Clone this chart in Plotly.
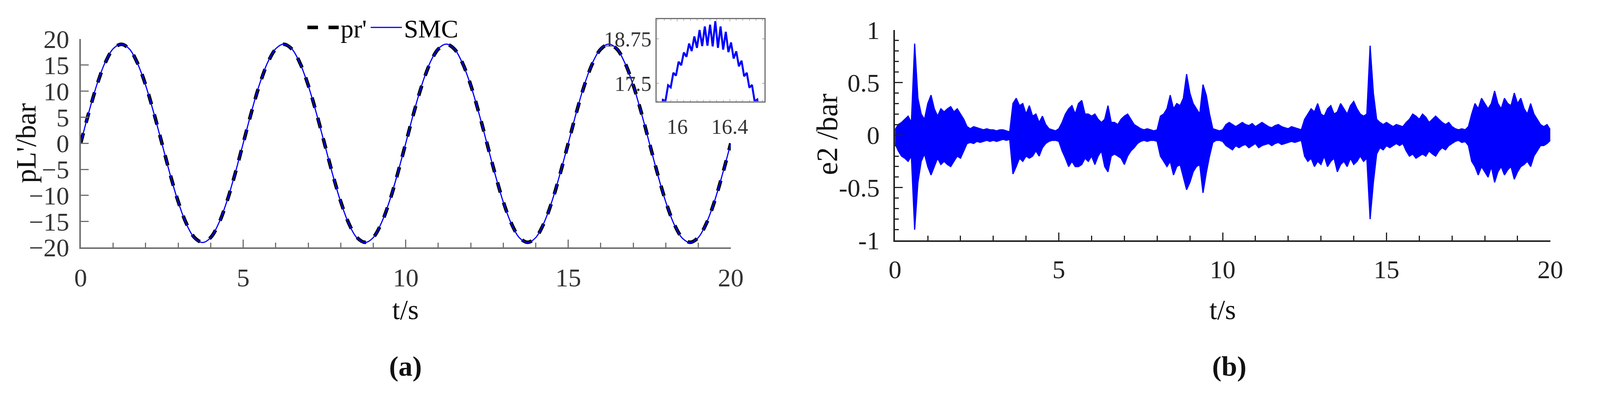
import numpy as np
import plotly.graph_objects as go

# (a) reference pressure pr' and SMC tracking, sampled every 0.25 s (one period of 5 s, repeated)
pr_cycle = [0, 5.87, 11.17, 15.37, 18.07, 19.0, 18.07, 15.37, 11.17, 5.87,
            0, -5.87, -11.17, -15.37, -18.07, -19.0, -18.07, -15.37, -11.17, -5.87]
smc_cycle = [0, 5.95, 11.3, 15.5, 18.15, 19.05, 18.1, 15.3, 11.1, 5.8,
             -0.05, -5.95, -11.25, -15.45, -18.15, -19.05, -18.1, -15.3, -11.1, -5.8]
pr = pr_cycle * 4 + [0]
smc = smc_cycle * 4 + [0]
t_a = np.arange(len(pr)) * 0.25

# inset: SMC near the peak at t = 16.25 s, every 0.02 s from 15.85
inset_vals = [16.59, 16.58, 17.04, 17.01, 17.45, 17.39, 17.80, 17.72, 18.11, 18.01,
              18.37, 18.25, 18.62, 18.41, 18.82, 18.50, 19.00, 18.55, 19.10, 18.56,
              19.15, 18.54, 19.25, 18.50, 19.10, 18.45, 18.95, 18.38, 18.65, 18.20,
              18.40, 17.98, 18.14, 17.70, 17.80, 17.38, 17.46, 17.00, 17.05, 16.58,
              16.60, 16.10]
t_in = 15.85 + np.arange(len(inset_vals)) * 0.02

# (b) error e2 envelope, every 0.1 s
e2_up = [0.05, 0.1, 0.12, 0.15, 0.18, 0.12,
         0.87, 0.35, 0.2, 0.15, 0.3, 0.38, 0.25, 0.18, 0.25, 0.22, 0.25, 0.27, 0.22, 0.25, 0.2, 0.15, 0.08,
         0.06, 0.08, 0.07, 0.06, 0.05, 0.06, 0.05, 0.05, 0.04, 0.05, 0.05, 0.04, 0.03,
         0.3, 0.35, 0.28, 0.3, 0.2, 0.28, 0.18, 0.2, 0.12, 0.18, 0.1, 0.06, 0.05, 0.04, 0.06,
         0.12, 0.2, 0.25, 0.28, 0.2, 0.3, 0.33, 0.2, 0.2, 0.18, 0.2, 0.15, 0.12, 0.15, 0.28,
         0.12, 0.12, 0.1, 0.15, 0.18, 0.2, 0.15, 0.1, 0.08, 0.06, 0.05, 0.06, 0.05, 0.04, 0.05,
         0.18, 0.2, 0.25, 0.38, 0.25, 0.3, 0.28, 0.35, 0.58, 0.4, 0.3, 0.25, 0.2, 0.48, 0.38,
         0.2, 0.06, 0.05, 0.04, 0.05,
         0.1, 0.12, 0.1, 0.08, 0.1, 0.12, 0.1, 0.09, 0.11, 0.08, 0.1, 0.12, 0.1, 0.08, 0.07,
         0.09, 0.1, 0.08, 0.07, 0.06, 0.08, 0.07, 0.06, 0.05,
         0.15, 0.2, 0.25, 0.22, 0.3, 0.2, 0.18, 0.25, 0.28, 0.2, 0.22, 0.3, 0.25, 0.2, 0.28,
         0.32, 0.25, 0.2, 0.18, 0.2,
         0.85, 0.4, 0.15,
         0.12, 0.1, 0.12, 0.1, 0.08, 0.1, 0.09, 0.08,
         0.12, 0.15, 0.2, 0.18, 0.15, 0.2, 0.17, 0.12, 0.15, 0.18, 0.15, 0.12, 0.1, 0.12, 0.08,
         0.06, 0.05, 0.06, 0.05, 0.08,
         0.2, 0.3, 0.25, 0.35, 0.3, 0.25, 0.3, 0.42, 0.3, 0.25, 0.35, 0.3, 0.28, 0.4, 0.3,
         0.35, 0.25, 0.2, 0.3, 0.2, 0.15,
         0.1, 0.08, 0.1, 0.05]
e2_low = [-0.08, -0.15, -0.2, -0.22, -0.25, -0.2,
          -0.9, -0.45, -0.25, -0.18, -0.3, -0.38, -0.3, -0.22, -0.28, -0.25, -0.28, -0.3, -0.25, -0.2, -0.22, -0.15, -0.08,
          -0.07, -0.08, -0.06, -0.07, -0.06, -0.05, -0.06, -0.05, -0.06, -0.05, -0.04, -0.05, -0.04,
          -0.37, -0.3, -0.22, -0.25, -0.2, -0.22, -0.2, -0.15, -0.2, -0.12, -0.08, -0.06, -0.05, -0.05, -0.06,
          -0.15, -0.22, -0.3, -0.25, -0.3, -0.3, -0.28, -0.22, -0.25, -0.2, -0.28, -0.2, -0.15, -0.3, -0.35,
          -0.2, -0.18, -0.2, -0.22, -0.28, -0.2, -0.15, -0.12, -0.08, -0.06, -0.05, -0.06, -0.05, -0.05, -0.06,
          -0.2, -0.25, -0.3, -0.25, -0.38, -0.3, -0.28, -0.4, -0.52, -0.45, -0.35, -0.3, -0.28, -0.55, -0.36,
          -0.2, -0.07, -0.05, -0.05, -0.06,
          -0.1, -0.12, -0.14, -0.1, -0.12, -0.1, -0.09, -0.12, -0.1, -0.08, -0.12, -0.1, -0.09, -0.08, -0.1,
          -0.08, -0.07, -0.09, -0.08, -0.07, -0.06, -0.07, -0.06, -0.05,
          -0.2, -0.25, -0.22, -0.3, -0.25, -0.28, -0.2, -0.3, -0.25, -0.22, -0.35, -0.28, -0.25, -0.3, -0.22,
          -0.28, -0.25, -0.2, -0.25, -0.22,
          -0.8, -0.45, -0.18,
          -0.12, -0.14, -0.1, -0.12, -0.1, -0.08, -0.1, -0.08,
          -0.15, -0.2, -0.18, -0.22, -0.2, -0.18, -0.2, -0.15, -0.18, -0.2, -0.15, -0.12, -0.14, -0.1, -0.08,
          -0.06, -0.05, -0.07, -0.06, -0.1,
          -0.25, -0.3, -0.38, -0.3, -0.35, -0.4, -0.3, -0.45, -0.35, -0.3, -0.38, -0.33, -0.3, -0.42, -0.35,
          -0.3, -0.28, -0.25, -0.3, -0.2, -0.15,
          -0.1, -0.1, -0.08, -0.05]
t_b = np.arange(len(e2_up)) * 0.1

FONT = "Liberation Serif"
BLUE = "#0000ff"
W, H = 4120, 1010  # visible area is a little narrower than the window

fig = go.Figure()
fig.add_trace(go.Scatter(x=t_a, y=pr, name="pr'", mode="lines", line_shape="spline",
                         line=dict(color="black", width=9, dash="dash"), xaxis="x", yaxis="y"))
fig.add_trace(go.Scatter(x=t_a, y=smc, name="SMC", mode="lines", line_shape="spline",
                         line=dict(color=BLUE, width=3), xaxis="x", yaxis="y"))
fig.add_trace(go.Scatter(x=t_in, y=inset_vals, mode="lines", showlegend=False,
                         line=dict(color=BLUE, width=5), xaxis="x3", yaxis="y3"))
fig.add_trace(go.Scatter(x=t_b, y=e2_up, mode="lines", showlegend=False,
                         line=dict(color=BLUE, width=3), xaxis="x2", yaxis="y2"))
fig.add_trace(go.Scatter(x=t_b, y=e2_low, mode="lines", showlegend=False, fill="tonexty",
                         fillcolor=BLUE, line=dict(color=BLUE, width=3), xaxis="x2", yaxis="y2"))

grey = "#707070"
dark = "#222222"
ax_common = dict(showgrid=False, zeroline=False, ticks="inside", showline=True,
                 tickfont=dict(family=FONT, size=66))

fig.update_layout(
    width=W, height=H, margin=dict(l=0, r=0, t=0, b=0),
    paper_bgcolor="white", plot_bgcolor="white",
    font=dict(family=FONT, color="black"),
    xaxis=dict(**ax_common, domain=[0.0446, 0.4535], range=[0, 20], anchor="y",
               tickvals=[0, 5, 10, 15, 20], ticklen=20, tickwidth=3, linewidth=4,
               linecolor=grey, tickcolor=grey, tickfont_color="#333",
               minor=dict(dtick=1, ticks="inside", ticklen=12, tickcolor=grey, tickwidth=3),
               ticklabelstandoff=16),
    yaxis=dict(**ax_common, domain=[0.37, 0.94], range=[-20, 20], anchor="x",
               tickvals=list(range(-20, 21, 5)), ticklen=20, tickwidth=3, linewidth=4,
               linecolor=grey, tickcolor=grey, tickfont_color="#333", ticklabelstandoff=12),
    xaxis2=dict(**ax_common, domain=[0.5568, 0.969], range=[0, 20], anchor="y2",
                tickvals=[0, 5, 10, 15, 20], ticklen=20, tickwidth=3, linewidth=4,
                linecolor=dark, tickcolor=dark, tickfont_color=dark,
                minor=dict(dtick=1, ticks="inside", ticklen=12, tickcolor=dark, tickwidth=3),
                ticklabelstandoff=14),
    yaxis2=dict(**ax_common, domain=[0.39, 0.965], range=[-1, 1], anchor="x2",
                tickvals=[-1, -0.5, 0, 0.5, 1], ticktext=["-1", "-0.5", "0", "0.5", "1"],
                ticklen=20, tickwidth=3, linewidth=4, linecolor=dark, tickcolor=dark,
                tickfont_color=dark, ticklabelstandoff=22,
                minor=dict(dtick=0.1, ticks="inside", ticklen=10, tickcolor=dark, tickwidth=3)),
    xaxis3=dict(showgrid=False, zeroline=False, domain=[0.407, 0.4747],
                range=[15.844, 16.665], anchor="y3", showline=True, mirror="ticks",
                linecolor=grey, linewidth=3, ticks="inside", ticklen=6, tickcolor=grey,
                tickvals=[16, 16.4], tickfont=dict(family=FONT, size=54, color="#333"),
                minor=dict(dtick=0.05, ticks="inside", ticklen=4, tickcolor=grey),
                ticklabelstandoff=16),
    yaxis3=dict(showgrid=False, zeroline=False, domain=[0.77, 0.995],
                range=[17.0, 19.31], anchor="x3", showline=True, mirror="ticks",
                linecolor=grey, linewidth=3, ticks="inside", ticklen=6, tickcolor=grey,
                tickvals=[17.5, 18.75], tickfont=dict(family=FONT, size=54, color="#333")),
    showlegend=True,
    legend=dict(orientation="h", x=0.186, y=0.972, xanchor="left", yanchor="middle",
                traceorder="normal", bgcolor="rgba(0,0,0,0)",
                font=dict(family=FONT, size=66, color="black"),
                itemwidth=80, tracegroupgap=0),
)

# axis titles and panel labels (paper coordinates)
notes = [
    dict(text="t/s", x=0.249, y=0.2, size=72, angle=0, ya="middle", xa="center"),
    dict(text="t/s", x=0.763, y=0.2, size=72, angle=0, ya="middle", xa="center"),
    dict(text="<b>(a)</b>", x=0.249, y=0.0, size=72, angle=0, ya="bottom", xa="center"),
    dict(text="<b>(b)</b>", x=0.767, y=0.0, size=72, angle=0, ya="bottom", xa="center"),
    dict(text="pL'/bar", x=0.0, y=0.655, size=72, angle=-90, ya="middle", xa="left"),
    dict(text="e2 /bar", x=0.514, y=0.68, size=76, angle=-90, ya="middle", xa="center"),
]
for n in notes:
    fig.add_annotation(text=n["text"], x=n["x"], y=n["y"], xref="paper", yref="paper",
                       xanchor=n["xa"], yanchor=n["ya"], showarrow=False,
                       textangle=n["angle"], font=dict(family=FONT, size=n["size"], color="#111"))

fig.write_html("out.html")
